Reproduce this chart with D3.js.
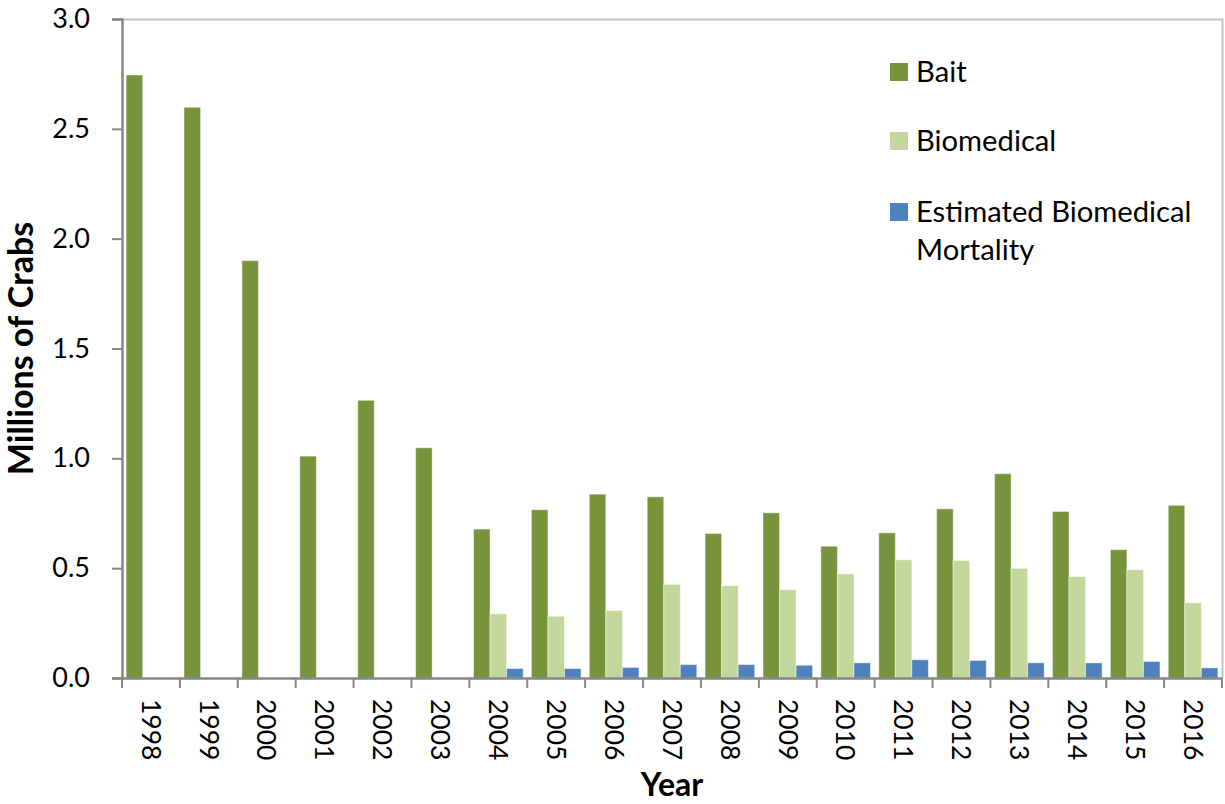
<!DOCTYPE html>
<html>
<head>
<meta charset="utf-8">
<script src="https://cdn.jsdelivr.net/npm/d3@7"></script>
<style>
  html, body { margin: 0; padding: 0; background: #fff; }
  svg { display: block; font-family: Lato, "Open Sans", "Liberation Sans", sans-serif; }
</style>
</head>
<body>
<svg id="chart" width="1225" height="804"></svg>
<script>
const years = ["1998","1999","2000","2001","2002","2003","2004","2005","2006","2007","2008","2009","2010","2011","2012","2013","2014","2015","2016"];
const bait = [2.745, 2.598, 1.90, 1.010, 1.264, 1.048, 0.678, 0.766, 0.837, 0.825, 0.658, 0.752, 0.600, 0.661, 0.770, 0.930, 0.758, 0.584, 0.786];
const biomedical = [null, null, null, null, null, null, 0.292, 0.281, 0.307, 0.426, 0.420, 0.402, 0.474, 0.538, 0.535, 0.499, 0.462, 0.493, 0.342];
const mortality = [null, null, null, null, null, null, 0.043, 0.043, 0.048, 0.061, 0.061, 0.058, 0.069, 0.083, 0.080, 0.069, 0.069, 0.075, 0.046];
const seriesNames = ["Bait", "Biomedical", "Estimated Biomedical Mortality"];
const seriesColors = ["#77933C", "#C3D69B", "#4F81BD"];
const yTicks = [0, 0.5, 1.0, 1.5, 2.0, 2.5, 3.0];

const svg = d3.select("#chart");
const L = 122, R = 1222, T = 19, B = 678;

const x0 = d3.scaleBand().domain(years).range([L, R]).paddingInner(0).paddingOuter(0);
const x1 = d3.scaleBand().domain(seriesNames).range([0, x0.bandwidth()]).paddingOuter(0.25).paddingInner(0);
const y = d3.scaleLinear().domain([0, 3]).range([B, T]);

// clipped title (only the bottoms of its brackets show at the top edge)
svg.append("text").attr("x", 682).attr("y", -7)
  .attr("text-anchor", "end").attr("font-weight", "bold").attr("font-size", 28)
  .text("Horseshoe Crab Harvest ");
svg.append("text").attr("x", 682).attr("y", -7)
  .attr("font-weight", "bold").attr("font-size", 28)
  .attr("textLength", 140)
  .text("(1998-2016)");

// plot frame (top and right light lines)
svg.append("path")
  .attr("d", `M${L},${T + 0.5}H${R + 0.5}V${B}`)
  .attr("fill", "none").attr("stroke", "#c4c4c4").attr("stroke-width", 2);

// bars
const data = [bait, biomedical, mortality];
data.forEach((vals, si) => {
  const g = svg.append("g");
  g.selectAll("rect").data(years.map((yr, i) => ({yr, v: vals[i]})).filter(d => d.v != null))
    .join("rect")
    .attr("x", d => x0(d.yr) + x1(seriesNames[si]))
    .attr("y", d => y(d.v))
    .attr("width", x1.bandwidth())
    .attr("height", d => y(0) - y(d.v))
    .attr("fill", seriesColors[si])
    .attr("stroke", "rgba(255,255,255,0.45)")
    .attr("stroke-width", 1);
});

const tickFont = "Lato, 'Open Sans', sans-serif";

// y axis
const yAxis = d3.axisLeft(y).tickValues(yTicks).tickFormat(d3.format(".1f")).tickSize(10).tickPadding(22);
const yg = svg.append("g").attr("transform", `translate(${L},0)`).call(yAxis);
yg.select(".domain").attr("stroke", "#868686").attr("stroke-width", 2.5);
yg.selectAll(".tick line").attr("stroke", "#868686").attr("stroke-width", 2);
yg.selectAll(".tick text").attr("font-size", 27).attr("fill", "#000")
  .attr("font-family", tickFont);

// x axis
const xAxis = d3.axisBottom(x0).tickSize(0).tickPadding(0);
const xg = svg.append("g").attr("transform", `translate(0,${B})`).call(xAxis);
xg.select(".domain").attr("stroke", "#868686").attr("stroke-width", 2.5);
xg.selectAll(".tick text")
  .attr("font-size", 26.5).attr("fill", "#000")
  .attr("font-family", tickFont)
  .attr("text-anchor", "start")
  .attr("dy", "0.35em")
  .attr("transform", "translate(0,21) rotate(90)");
// category boundary ticks
const bounds = years.map(d => x0(d)).concat([R]);
xg.selectAll(".bound").data(bounds).join("line")
  .attr("class", "bound")
  .attr("x1", d => d).attr("x2", d => d)
  .attr("y1", 0).attr("y2", 10)
  .attr("stroke", "#868686").attr("stroke-width", 2);

// axis titles
svg.append("text")
  .attr("transform", `translate(33,${(T + B) / 2}) rotate(-90)`)
  .attr("text-anchor", "middle").attr("font-weight", "bold").attr("font-size", 34)
  .text("Millions of Crabs");
svg.append("text")
  .attr("x", (L + R) / 2).attr("y", 796)
  .attr("text-anchor", "middle").attr("font-weight", "bold").attr("font-size", 32)
  .text("Year");

// legend
const legendItems = [
  {lines: ["Bait"], y: 72},
  {lines: ["Biomedical"], y: 141},
  {lines: ["Estimated Biomedical", "Mortality"], y: 212}
];
const lg = svg.append("g");
legendItems.forEach((it, i) => {
  lg.append("rect").attr("x", 890).attr("y", it.y - 9).attr("width", 18).attr("height", 18)
    .attr("fill", seriesColors[i]);
  const t = lg.append("text").attr("x", 916).attr("y", it.y)
    .attr("font-size", 29.2).attr("fill", "#000");
  it.lines.forEach((ln, j) => {
    t.append("tspan").attr("x", 916).attr("dy", j === 0 ? "0.35em" : "1.3em").text(ln);
  });
});
</script>
</body>
</html>
